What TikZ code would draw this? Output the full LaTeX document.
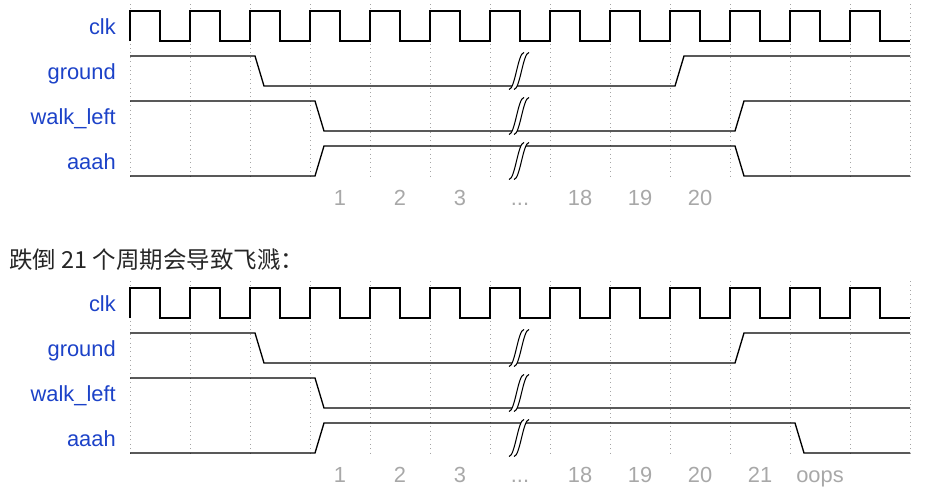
\documentclass[tikz,border=0pt]{standalone}
\usepackage{fontspec}
\setmainfont{Liberation Sans}
\newfontfamily\zhfont{Noto Sans CJK SC}
\usepackage{tikz}
\usetikzlibrary{positioning}
\definecolor{sigblue}{RGB}{28,66,200}
\definecolor{cycgray}{RGB}{168,168,168}
\definecolor{gridgray}{RGB}{165,165,165}
\definecolor{titlegray}{RGB}{38,38,38}
\newcommand{\lblfont}{\fontsize{16.4}{19}\selectfont}
\newcommand{\ttlfont}{\zhfont\fontsize{17.6}{20}\selectfont}

\tikzset{
  wave/.style={line width=1pt},
  gridline/.style={gridgray, line width=0.55pt, dash pattern=on 0.6pt off 2.7pt},
  signame/.style={anchor=base east, inner sep=0pt, text=sigblue, font=\lblfont},
  cyc/.style={anchor=base, inner sep=0pt, text=cycgray, font=\lblfont},
  brk/.pic={
    \fill[white] (-11,18.5) .. controls (-5,18.5) and (-2,-18.5) .. (4,-18.5)
      -- (9,-18.5) .. controls (3,-18.5) and (0,18.5) .. (-6,18.5) -- cycle;
    \draw[line width=0.8pt] (-11,18.5) .. controls (-5,18.5) and (-2,-18.5) .. (4,-18.5);
    \draw[line width=0.8pt] (-6,18.5) .. controls (0,18.5) and (3,-18.5) .. (9,-18.5);
  }
}

\begin{document}
\begin{tikzpicture}[x=0.75pt,y=-0.75pt]
\useasboundingbox (0,0) rectangle (947,500);

% first run: 20 cycles
\foreach \x in {130,190,...,910} \draw[gridline] (\x,4) -- (\x,179);
\draw[wave] (130,41) \foreach \i in {1,...,13}{ -- ++(0,-30) -- ++(30,0) -- ++(0,30) -- ++(30,0)};
\draw[wave] (130,56) -- (255,56) -- (264,86) -- (675,86) -- (684,56) -- (910,56);
\draw[wave] (130,101) -- (315,101) -- (324,131) -- (735,131) -- (744,101) -- (910,101);
\draw[wave] (130,176) -- (315,176) -- (324,146) -- (735,146) -- (744,176) -- (910,176);
\pic at (520,71) {brk};
\pic at (520,116) {brk};
\pic at (520,161) {brk};
\node[signame] (clk) at (116,34) {clk};
\node[signame] (ground) at (116,79) {ground};
\node[signame] (walk) at (116,124) {walk\_left};
\node[signame] (aaah) at (116,169) {aaah};
\node[cyc] (c1) at (340,205) {1};
\node[cyc] (c2) at (400,205) {2};
\node[cyc] (c3) at (460,205) {3};
\node[cyc] (cdots) at (520,205) {...};
\node[cyc] (c18) at (580,205) {18};
\node[cyc] (c19) at (640,205) {19};
\node[cyc] (c20) at (700,205) {20};

\node[anchor=base west, inner sep=0pt, text=titlegray, font=\ttlfont] (title) at (9,268) {跌倒 21 个周期会导致飞溅：};

% second run: 21 cycles
\begin{scope}[shift={(0,277)}]
\foreach \x in {130,190,...,910} \draw[gridline] (\x,4) -- (\x,179);
\draw[wave] (130,41) \foreach \i in {1,...,13}{ -- ++(0,-30) -- ++(30,0) -- ++(0,30) -- ++(30,0)};
\draw[wave] (130,56) -- (255,56) -- (264,86) -- (735,86) -- (744,56) -- (910,56);
\draw[wave] (130,101) -- (315,101) -- (324,131) -- (910,131);
\draw[wave] (130,176) -- (315,176) -- (324,146) -- (795,146) -- (804,176) -- (910,176);
\pic at (520,71) {brk};
\pic at (520,116) {brk};
\pic at (520,161) {brk};
\node[signame] (clk2) at (116,34) {clk};
\node[signame] (ground2) at (116,79) {ground};
\node[signame] (walk2) at (116,124) {walk\_left};
\node[signame] (aaah2) at (116,169) {aaah};
\node[cyc] (d1) at (340,205) {1};
\node[cyc] (d2) at (400,205) {2};
\node[cyc] (d3) at (460,205) {3};
\node[cyc] (ddots) at (520,205) {...};
\node[cyc] (d18) at (580,205) {18};
\node[cyc] (d19) at (640,205) {19};
\node[cyc] (d20) at (700,205) {20};
\node[cyc] (d21) at (760,205) {21};
\node[cyc] (oops) at (820,205) {oops};
\end{scope}
\end{tikzpicture}
\end{document}
